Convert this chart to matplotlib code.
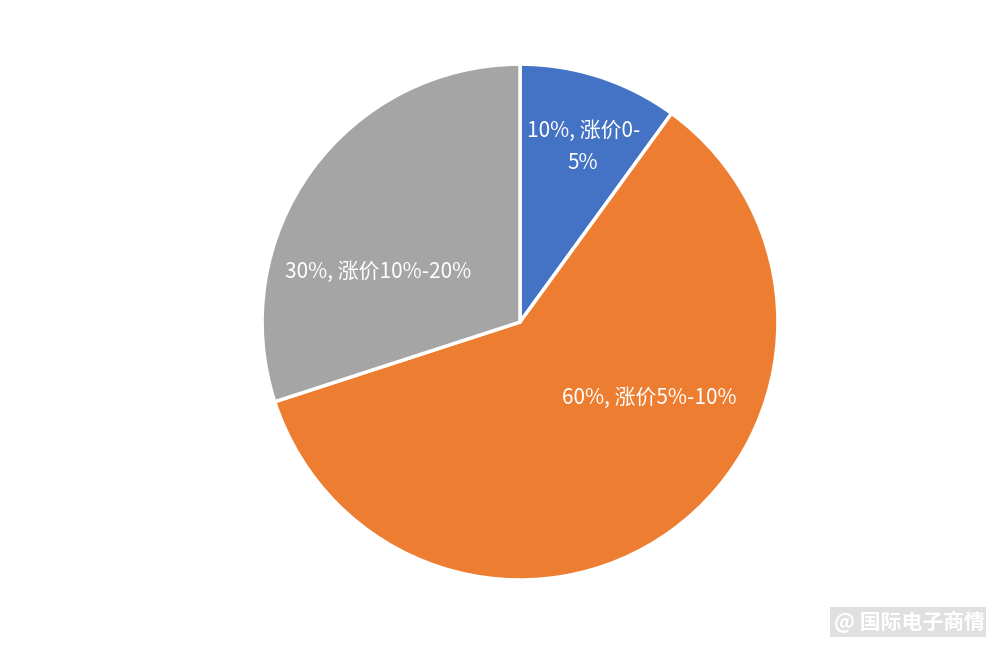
import matplotlib
matplotlib.use('Agg')
import matplotlib.pyplot as plt
import numpy as np

plt.rcParams['font.family'] = ['Noto Sans CJK SC', 'DejaVu Sans']

categories = ['涨价0-5%', '涨价5%-10%', '涨价10%-20%']
shares = [10, 60, 30]
colors = ['#4472C4', '#ED7D31', '#A5A5A5']
label_text = ['10%, 涨价0-\n5%', '60%, 涨价5%-10%', '30%, 涨价10%-20%']
# label positions (in axes data units, pie radius = 1)
label_pos = [(0.245, 0.68), (0.50, -0.295), (-0.55, 0.195)]

fig = plt.figure(figsize=(9.86, 6.48), dpi=100)
ax = fig.add_axes([0.5274 - 0.2617, 0.503 - 0.398, 0.5234, 0.796])

wedges, _ = ax.pie(shares, colors=colors, startangle=90, counterclock=False,
                   wedgeprops=dict(edgecolor='white', linewidth=2.5))
ax.set_xlim(-1, 1)
ax.set_ylim(-1, 1)
ax.set_aspect('equal')

for txt, (x, y) in zip(label_text, label_pos):
    ax.text(x, y, txt, ha='center', va='center', color='white', fontsize=15,
            linespacing=1.6)

fig.text(0.9229, 0.040, '@ 国际电子商情', ha='center', va='center', color='white',
         fontsize=15, fontweight='bold',
         bbox=dict(boxstyle='square,pad=0.2', facecolor='#E0E0E0', edgecolor='none'))

fig.savefig('out.png', dpi=100)
